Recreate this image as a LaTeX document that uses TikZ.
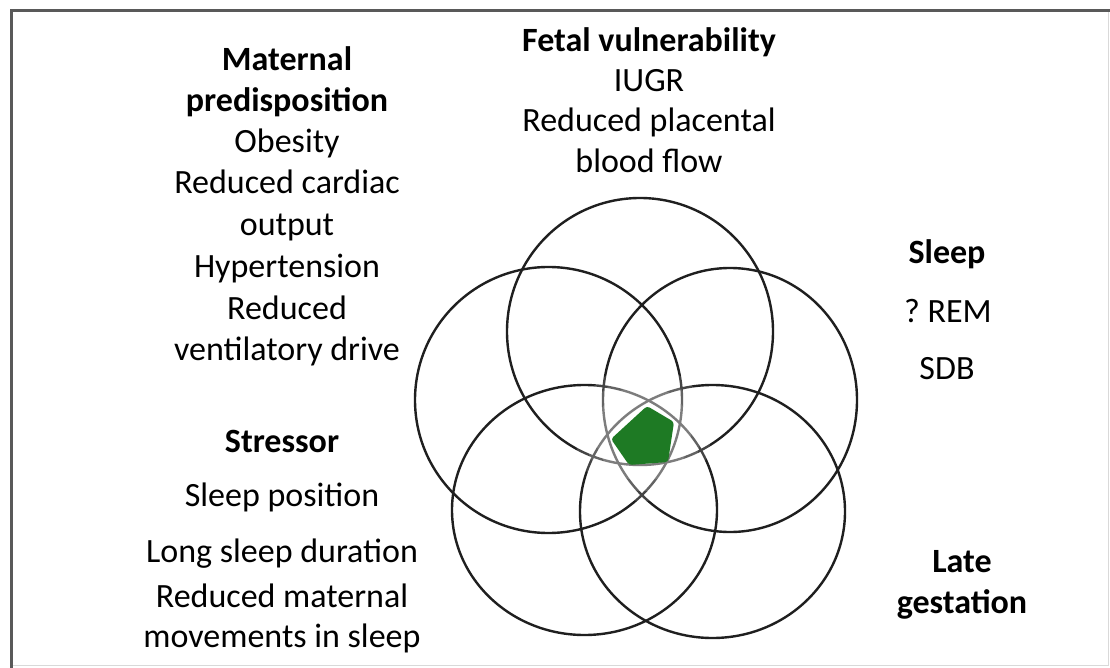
\documentclass[tikz,border=0pt]{standalone}
\usepackage{fontspec}
\setmainfont{Carlito}
\definecolor{leafgreen}{RGB}{30,122,36}
\begin{document}
\begin{tikzpicture}[x=1pt,y=-1pt,
  txt/.style={anchor=base,inner sep=0pt,font=\fontsize{34}{41}\selectfont},
  head/.style={anchor=base,inner sep=0pt,font=\fontsize{34}{41}\selectfont\bfseries},
  ring/.style={draw=black!88,line width=2.4pt},
  veil/.style={fill=white,fill opacity=0.17},
]
\useasboundingbox (0,0) rectangle (1110,668);
\fill[white] (0,0) rectangle (1110,668);

% frame
\draw[black!15,line width=1pt] (11,665) -- (1108,665) -- (1108,11);
\draw[black!65,line width=3pt] (11,668) -- (11,11) -- (1110,11);

% circle centres
\coordinate (cT)  at (640,331.5);
\coordinate (cUL) at (548.5,400);
\coordinate (cUR) at (730,400);
\coordinate (cLL) at (584.5,510);
\coordinate (cLR) at (712.5,511.5);
\coordinate (mid) at (643,433);

% outlines
\draw[ring] (cT)  ellipse [x radius=133,y radius=133.5];
\draw[ring] (cUL) ellipse [x radius=133.5,y radius=133];
\draw[ring] (cUR) ellipse [x radius=127,y radius=132];
\draw[ring] (cLL) ellipse [x radius=132.5,y radius=125];
\draw[ring] (cLR) ellipse [x radius=132.5,y radius=126.5];

% the arcs near the middle are paler
\fill[veil] (mid) circle (68);
\fill[veil] (mid) circle (58);
\fill[veil] (mid) circle (48);

% common region
\fill[leafgreen,rounded corners=3pt] (647,406) -- (674,422) -- (668,462) -- (629,465) -- (611,439) -- cycle;

% Maternal predisposition
\node[head] (mp1) at (287,71)  {Maternal};
\node[head] (mp2) at (287,112) {predisposition};
\node[txt]  (mp3) at (287,153) {Obesity};
\node[txt]  (mp4) at (287,194) {Reduced cardiac};
\node[txt]  (mp5) at (287,236) {output};
\node[txt]  (mp6) at (287,277) {Hypertension};
\node[txt]  (mp7) at (287,319) {Reduced};
\node[txt]  (mp8) at (287,360) {ventilatory drive};

% Fetal vulnerability
\node[head] (fv1) at (649,52)  {Fetal vulnerability};
\node[txt]  (fv2) at (649,92)  {IUGR};
\node[txt]  (fv3) at (649,132) {Reduced placental};
\node[txt]  (fv4) at (649,173) {blood flow};

% Sleep
\node[head] (sl1) at (947,263) {Sleep};
\node[txt]  (sl2) at (948,322) {?\ REM};
\node[txt]  (sl3) at (947,379) {SDB};

% Stressor
\node[head] (st1) at (282,452) {Stressor};
\node[txt]  (st2) at (282,506) {Sleep position};
\node[txt]  (st3) at (282,562) {Long sleep duration};
\node[txt]  (st4) at (282,607) {Reduced maternal};
\node[txt]  (st5) at (282,647) {movements in sleep};

% Late gestation
\node[head] (lg1) at (962,572) {Late};
\node[head] (lg2) at (962,613) {gestation};
\end{tikzpicture}
\end{document}
